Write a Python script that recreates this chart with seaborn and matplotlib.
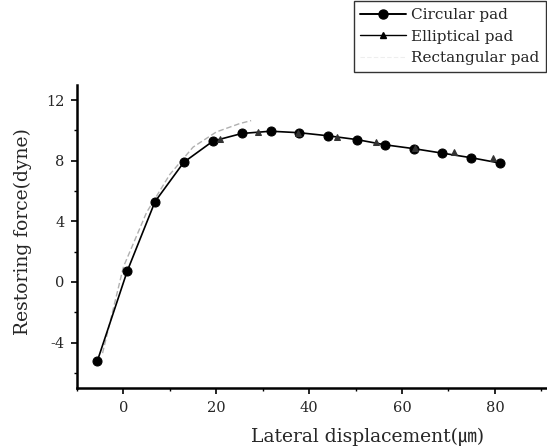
import matplotlib
matplotlib.use("Agg")
import matplotlib.pyplot as plt
import seaborn as sns
import pandas as pd
from matplotlib.ticker import MultipleLocator
from matplotlib.lines import Line2D

# Data
circ_x = [-5.6, 0.8, 6.8, 13.0, 19.3, 25.5, 31.7, 37.9, 44.0, 50.2, 56.4, 62.5, 68.7, 74.9, 81.0]
circ_y = [-5.2, 0.7, 5.3, 7.9, 9.3, 9.8, 9.95, 9.85, 9.65, 9.4, 9.05, 8.8, 8.5, 8.2, 7.85]

ell_x = [20.8, 28.9, 37.5, 45.9, 54.4, 62.8, 71.2, 79.5]
ell_y = [9.45, 9.9, 9.85, 9.6, 9.25, 8.85, 8.55, 8.2]

rect_x = [-4.5, 0.0, 5.0, 10.0, 15.0, 20.0, 25.0, 27.5]
rect_y = [-4.7, 1.0, 4.6, 7.1, 8.9, 9.9, 10.45, 10.65]

x_ticks = [0, 20, 40, 60, 80]
y_ticks = [-4, 0, 4, 8, 12]
y_tick_labels = ["-4", "0", "4", "8", "12"]

sns.set_style("ticks")
plt.rcParams['font.family'] = ['DejaVu Serif', 'Noto Sans CJK KR', 'DejaVu Sans']

fig = plt.figure(figsize=(5.47, 4.47), dpi=100)
ax = fig.add_axes([77/547, 1-388/447, (546-77)/547, (388-85)/447])

df_c = pd.DataFrame({"x": circ_x, "y": circ_y})
df_e = pd.DataFrame({"x": ell_x, "y": ell_y})
df_r = pd.DataFrame({"x": rect_x, "y": rect_y})

sns.lineplot(data=df_r, x="x", y="y", ax=ax, color="#b0b0b0", linewidth=1.0,
             linestyle=(0, (4, 2)), label="Rectangular pad", sort=False)
sns.lineplot(data=df_c, x="x", y="y", ax=ax, color="black", linewidth=1.2,
             marker="o", markersize=6.5, markeredgecolor="black", label="Circular pad", sort=False)
sns.lineplot(data=df_e, x="x", y="y", ax=ax, color="#333333", linewidth=0,
             marker="^", markersize=5, markeredgecolor="#333333", label="_nolegend_", sort=False)

ax.set_xlim(-10, 91)
ax.set_ylim(-7, 13)
ax.set_xticks(x_ticks)
ax.set_yticks(y_ticks)
ax.set_yticklabels(y_tick_labels)
ax.xaxis.set_minor_locator(MultipleLocator(10))
ax.yaxis.set_minor_locator(MultipleLocator(2))
ax.tick_params(axis="both", which="major", direction="out", length=4, width=1.2, labelsize=10.5,
               color="black", pad=5)
ax.tick_params(axis="both", which="minor", direction="out", length=2.5, width=1.0, color="black")
for s in ["top", "right"]:
    ax.spines[s].set_visible(False)
for s in ["left", "bottom"]:
    ax.spines[s].set_linewidth(1.8)
    ax.spines[s].set_color("black")

ax.set_xlabel("Lateral displacement(㎛)", fontsize=13.5, labelpad=6)
ax.xaxis.set_label_coords((368 - 77) / 469, -0.1)
ax.xaxis.label.set_va("center")
ax.xaxis.label.set_position(((368 - 77) / 469, 0))
ax.set_ylabel("Restoring force(dyne)", fontsize=13.5)
ax.yaxis.set_label_coords(-(77 - 23) / 469, (388 - 232) / 303)
ax.yaxis.label.set_va("center")
ax.xaxis.set_label_coords((368 - 77) / 469, -(437 - 388) / 303)

if ax.get_legend() is not None:
    ax.get_legend().remove()

handles = [
    Line2D([], [], color="black", linewidth=1.4, marker="o", markersize=6.5),
    Line2D([], [], color="black", linewidth=1.0, marker="^", markersize=4.5),
    Line2D([], [], color="#eeeeee", linewidth=0.8, linestyle=(0, (4, 2))),
]
labels = ["Circular pad", "Elliptical pad", "Rectangular pad"]
leg = fig.legend(handles, labels, loc="upper right", bbox_to_anchor=(546/547, 1-1/447),
                 fontsize=11, frameon=True, fancybox=False, edgecolor="black",
                 handlelength=3.0, handletextpad=0.3, borderpad=0.45, labelspacing=0.5,
                 borderaxespad=0.0)
leg.get_frame().set_linewidth(1.0)

fig.savefig("out.png", dpi=100)
